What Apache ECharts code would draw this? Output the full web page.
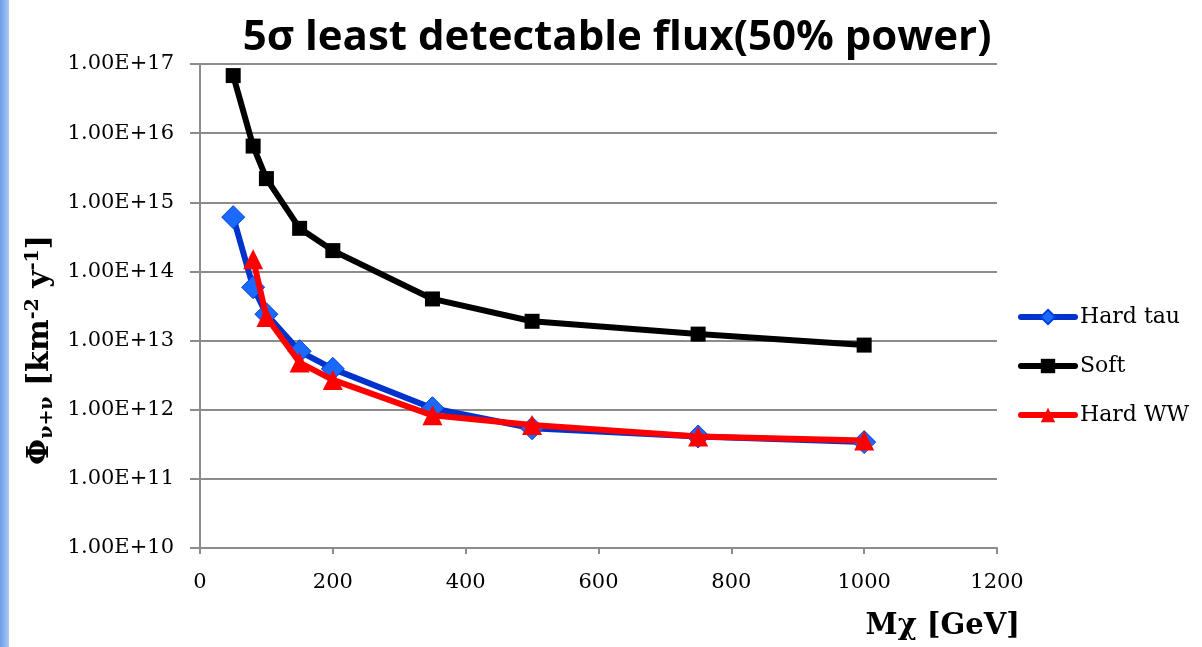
<!DOCTYPE html>
<html><head><meta charset="utf-8">
<script src="https://cdn.jsdelivr.net/npm/echarts@6/dist/echarts.min.js"></script>
<style>html,body{margin:0;padding:0;background:#fff}#c{width:1202px;height:647px}</style>
</head><body><div id="c"></div>
<script>
const xValues = [50, 80, 100, 150, 200, 350, 500, 750, 1000];
const hardTau = [6.1e14, 5.9e13, 2.4e13, 7.0e12, 3.9e12, 1.05e12, 5.4e11, 4.1e11, 3.4e11];
const soft = [6.8e16, 6.5e15, 2.2e15, 4.2e14, 2.0e14, 4.0e13, 1.9e13, 1.24e13, 8.6e12];
const hardWW = [null, 1.5e14, 2.2e13, 4.8e12, 2.7e12, 8.3e11, 6.0e11, 4.1e11, 3.6e11];
const seriesNames = ['Hard tau', 'Soft', 'Hard WW'];

const pair = (arr) => xValues.map((x, i) => arr[i] == null ? null : [x, arr[i]]).filter(d => d);
const serif = '"DejaVu Serif", "Liberation Serif", serif';
const chart = echarts.init(document.getElementById('c'));
chart.setOption({
  animation: false,
  title: {
    text: '5σ least detectable flux(50% power)',
    left: 612, textAlign: 'center', top: 12,
    textStyle: { fontFamily: '"Open Sans", sans-serif', fontWeight: 'bold', fontSize: 42, color: '#000' }
  },
  graphic: [{
    type: 'rect', left: 0, top: 0, shape: { width: 9, height: 647 }, silent: true,
    style: { fill: new echarts.graphic.LinearGradient(0, 0, 1, 0, [{ offset: 0, color: '#6f9de8' }, { offset: 1, color: '#a9c8f3' }]) }
  }],
  grid: { left: 200, right: 205, top: 64, bottom: 99 },
  legend: {
    orient: 'vertical', left: 1013, top: 301, itemGap: 27, itemWidth: 54, itemHeight: 18,
    data: seriesNames,
    lineStyle: { width: 6, cap: 'round' },
    textStyle: { fontFamily: serif, fontSize: 22, color: '#000', padding: [0, 0, 0, 0] }
  },
  xAxis: {
    type: 'value', min: 0, max: 1200, interval: 200,
    name: 'Mχ [GeV]', nameLocation: 'end', nameGap: 23,
    nameTextStyle: { fontFamily: serif, fontWeight: 'bold', fontSize: 29, color: '#000', align: 'right', verticalAlign: 'top', padding: [64, 0, 0, 0] },
    axisLine: { lineStyle: { color: '#8c8c8c', width: 2 } },
    axisTick: { show: true, length: 6, lineStyle: { color: '#8c8c8c', width: 2 } },
    axisLabel: { fontFamily: serif, fontSize: 21, color: '#000', margin: 24, formatter: v => String(v) },
    splitLine: { show: false }
  },
  yAxis: {
    type: 'log', logBase: 10, min: 1e10, max: 1e17,
    name: '{b|Φ}{s|ν+ν}{b| [km}{p|-2}{b| y}{p|-1}{b|]}',
    nameLocation: 'middle', nameGap: 142, nameRotate: 90,
    nameTextStyle: {
      padding: [0, 88, 0, 0],
      rich: {
        b: { fontFamily: serif, fontWeight: 'bold', fontSize: 30, color: '#000' },
        s: { fontFamily: serif, fontWeight: 'bold', fontSize: 19, color: '#000', verticalAlign: 'bottom', padding: [14, 0, 0, 0] },
        p: { fontFamily: serif, fontWeight: 'bold', fontSize: 19, color: '#000', verticalAlign: 'top', padding: [0, 0, 12, 0] }
      }
    },
    axisLine: { show: true, lineStyle: { color: '#8c8c8c', width: 2 } },
    axisTick: { show: true, length: 10, lineStyle: { color: '#8c8c8c', width: 2 } },
    axisLabel: { fontFamily: serif, fontSize: 21, color: '#000', margin: 26,
      formatter: v => Number(v).toExponential(2).toUpperCase() },
    splitLine: { show: true, lineStyle: { color: '#8c8c8c', width: 2 } }
  },
  series: [
    { name: seriesNames[0], type: 'line', data: pair(hardTau), symbol: 'diamond', symbolSize: 23,
      lineStyle: { color: '#0033cc', width: 6 }, itemStyle: { color: '#1a6aff', borderColor: '#0040dd', borderWidth: 1 }, z: 3 },
    { name: seriesNames[1], type: 'line', data: pair(soft), symbol: 'rect', symbolSize: 15,
      lineStyle: { color: '#000', width: 6 }, itemStyle: { color: '#000' }, z: 2 },
    { name: seriesNames[2], type: 'line', data: pair(hardWW), symbol: 'triangle', symbolSize: 20,
      lineStyle: { color: '#ff0000', width: 6 }, itemStyle: { color: '#ff0000' }, z: 4 }
  ]
});
</script></body></html>
